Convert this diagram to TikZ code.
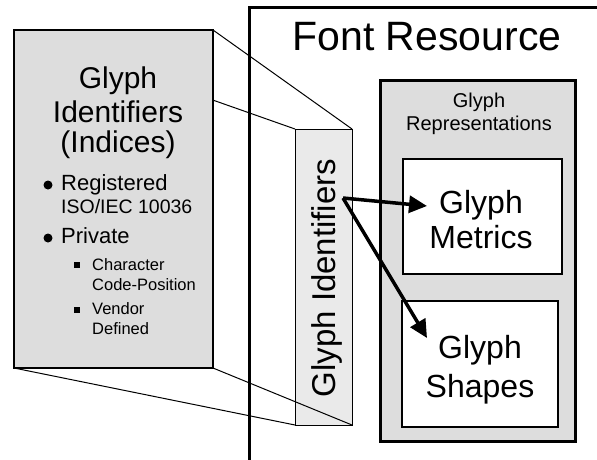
\documentclass[tikz,border=0pt]{standalone}
\usepackage{fontspec}
\setmainfont{Liberation Sans}
\usetikzlibrary{arrows.meta}
\definecolor{boxgray}{RGB}{221,221,221}
\definecolor{bargray}{RGB}{234,234,234}
\begin{document}
\begin{tikzpicture}[x=1pt,y=-1pt,
  txt/.style={inner sep=0pt, anchor=base},
  ltxt/.style={inner sep=0pt, anchor=base west},
  fs/.style={font=\fontsize{#1}{#1}\selectfont},
  conn/.style={line width=1pt},
  box/.style={draw, inner sep=0pt, outer sep=0pt, anchor=north west},
  arr/.style={line width=3.5pt, -{Triangle[length=18pt,width=17pt]}},
  bul/.style={circle, fill, inner sep=0pt, minimum size=9pt},
  sq/.style={rectangle, fill, inner sep=0pt, minimum size=6.5pt},
]
\useasboundingbox (0,0) rectangle (597,459);
\fill[white] (0,0) rectangle (597,459);

% outer frame
\draw[line width=3pt] (249.5,460) -- (249.5,7.5) -- (598,7.5);
\node[txt, fs=41] (title) at (427,50) {Font Resource};

% bar
\node[box, fill=bargray, line width=1pt, minimum width=57pt, minimum height=296pt] (bar) at (295,129) {};
\node[txt, fs=33, rotate=90] (vt) at (335,278) {Glyph Identifiers};

% left box
\coordinate (lnw) at (14,30);
\coordinate (lsw) at (14,368);
\coordinate (lne) at (213,30);
\coordinate (lse) at (213,368);
\draw[conn] (lnw) -- (bar.north west);
\draw[conn] (lne) -- (bar.north east);
\draw[conn] (lsw) -- (bar.south west);
\draw[conn] (lse) -- (bar.south east);
\node[box, fill=boxgray, line width=2.5pt, minimum width=199pt, minimum height=338pt] (lbox) at (14,30) {};

\node[txt, fs=30] (l1) at (118,88) {Glyph};
\node[txt, fs=30] (l2) at (118,122) {Identifiers};
\node[txt, fs=30] (l3) at (118,152) {(Indices)};

\node[bul] (b1) at (48,185) {};
\node[ltxt, fs=22] (reg) at (61,190) {Registered};
\node[ltxt, fs=19.5] (iso) at (61,213) {ISO/IEC 10036};
\node[bul] (b2) at (48,238) {};
\node[ltxt, fs=22] (priv) at (61,243) {Private};
\node[sq] (s1) at (77,265) {};
\node[ltxt, fs=16.5] (ch1) at (92,270) {Character};
\node[ltxt, fs=16.5] (ch2) at (92,290) {Code-Position};
\node[sq] (s2) at (77,310) {};
\node[ltxt, fs=16.5] (vd1) at (92,314) {Vendor};
\node[ltxt, fs=16.5] (vd2) at (92,334) {Defined};

% representations
\node[box, fill=boxgray, line width=3pt, minimum width=195pt, minimum height=361pt] (rep) at (380,80) {};
\node[txt, fs=20] (r1) at (479,107) {Glyph};
\node[txt, fs=20] (r2) at (479,130) {Representations};

\node[box, fill=white, line width=1.3pt, minimum width=159pt, minimum height=115pt] (met) at (403,159) {};
\node[txt, fs=32] (m1) at (481,213) {Glyph};
\node[txt, fs=32] (m2) at (481,248) {Metrics};

\node[box, fill=white, line width=1.3pt, minimum width=156pt, minimum height=126pt] (shp) at (402,301) {};
\node[txt, fs=32] (h1) at (480,358) {Glyph};
\node[txt, fs=32] (h2) at (480,397) {Shapes};

% arrows
\coordinate (src) at (343,198);
\coordinate (t1) at (427,206);
\coordinate (t2) at (427,338);
\draw[arr] (src) -- (t1);
\draw[arr] (src) -- (t2);
\end{tikzpicture}
\end{document}
